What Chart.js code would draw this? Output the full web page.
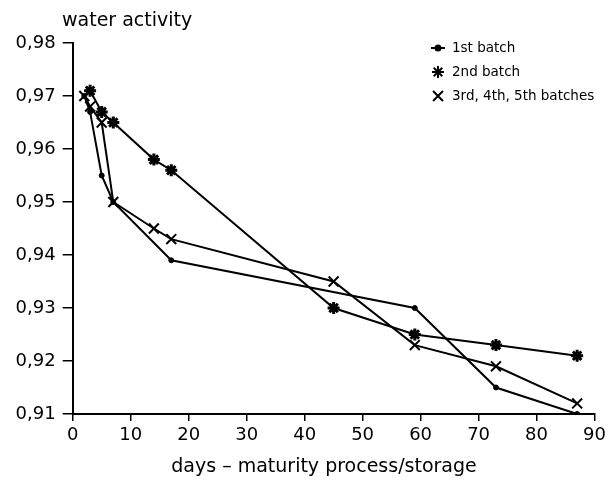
<!DOCTYPE html>
<html>
<head>
<meta charset="utf-8">
<script src="https://cdn.jsdelivr.net/npm/chart.js@4.4.1/dist/chart.umd.min.js"></script>
<style>
html,body{margin:0;padding:0;background:#fff;}
#wrap{width:610px;height:484px;position:relative;}
</style>
</head>
<body>
<div id="wrap"><canvas id="c" width="610" height="484"></canvas></div>
<script>
// ---- data ----
const seriesLabels = ["1st batch", "2nd batch", "3rd, 4th, 5th batches"];
const days1 = [2, 3, 5, 7, 17, 59, 73, 87];
const aw1   = [0.970, 0.967, 0.955, 0.950, 0.939, 0.930, 0.915, 0.910];
const days2 = [3, 5, 7, 14, 17, 45, 59, 73, 87];
const aw2   = [0.971, 0.967, 0.965, 0.958, 0.956, 0.930, 0.925, 0.923, 0.921];
const days3 = [2, 3, 5, 7, 14, 17, 45, 59, 73, 87];
const aw3   = [0.970, 0.968, 0.965, 0.950, 0.945, 0.943, 0.935, 0.923, 0.919, 0.912];
const xTicks = [0, 10, 20, 30, 40, 50, 60, 70, 80, 90];
const yTicks = [0.91, 0.92, 0.93, 0.94, 0.95, 0.96, 0.97, 0.98];
const yTitle = "water activity";
const xTitle = "days \u2013 maturity process/storage";

const FONT = "'DejaVu Sans', sans-serif";
const toPts = (xs, ys) => xs.map((x, i) => ({x: x, y: ys[i]}));

const styles = [
  {pointStyle: 'circle',   pointRadius: 2.5, pointBorderWidth: 1, pointBackgroundColor: '#000'},
  {pointStyle: 'star',     pointRadius: 6,   pointBorderWidth: 3, pointBackgroundColor: '#000'},
  {pointStyle: 'crossRot', pointRadius: 7,   pointBorderWidth: 2, pointBackgroundColor: '#000'}
];
const allData = [toPts(days1, aw1), toPts(days2, aw2), toPts(days3, aw3)];

const datasets = allData.map((d, i) => Object.assign({
  label: seriesLabels[i],
  data: d,
  showLine: true,
  borderColor: '#000',
  borderWidth: 2,
  pointBorderColor: '#000',
  tension: 0,
  fill: false
}, styles[i]));

const textPlugin = {
  id: 'texts',
  afterDraw(chart) {
    const ctx = chart.ctx;
    ctx.save();
    ctx.fillStyle = '#000';
    // axis titles
    ctx.font = "19px " + FONT;
    ctx.textAlign = 'left';
    ctx.textBaseline = 'middle';
    ctx.fillText(yTitle, 62, 21);
    ctx.font = "19px " + FONT;
    ctx.textAlign = 'center';
    ctx.fillText(xTitle, 324, 467);
    // legend
    ctx.font = "13.5px " + FONT;
    ctx.textAlign = 'left';
    const lx = 438, tx = 452, ly = [48, 72, 96];
    chart.data.datasets.forEach((ds, i) => {
      const y = ly[i];
      ctx.strokeStyle = '#000';
      ctx.fillStyle = '#000';
      if (i === 0) {
        ctx.lineWidth = 2;
        ctx.beginPath(); ctx.moveTo(lx - 7, y); ctx.lineTo(lx + 7, y); ctx.stroke();
      }
      Chart.helpers.drawPoint(ctx, {
        pointStyle: ds.pointStyle,
        radius: ds.pointRadius,
        borderWidth: ds.pointBorderWidth
      }, lx, y);
      ctx.fillStyle = '#000';
      ctx.fillText(ds.label, tx, y);
    });
    ctx.restore();
  }
};

new Chart(document.getElementById('c'), {
  type: 'scatter',
  data: {datasets: datasets},
  options: {
    responsive: false,
    animation: false,
    layout: {padding: {top: 43, right: 14, left: 0, bottom: 0}},
    plugins: {legend: {display: false}, tooltip: {enabled: false}, title: {display: false}},
    scales: {
      x: {
        type: 'linear', min: 0, max: 90,
        afterFit(s) { s.height = 70; },
        afterBuildTicks(s) { s.ticks = xTicks.map(v => ({value: v})); },
        border: {color: '#000', width: 2},
        grid: {display: true, drawOnChartArea: false, drawTicks: true, tickLength: 7, color: '#000', lineWidth: 1.5},
        ticks: {color: '#000', font: {family: FONT, size: 18}, padding: 4, maxRotation: 0,
                callback: v => String(v)}
      },
      y: {
        type: 'linear', min: 0.91, max: 0.98,
        afterFit(s) { s.width = 72.7; },
        afterBuildTicks(s) { s.ticks = yTicks.map(v => ({value: v})); },
        border: {color: '#000', width: 2},
        grid: {display: true, drawOnChartArea: false, drawTicks: true, tickLength: 10, color: '#000', lineWidth: 1.5},
        ticks: {color: '#000', font: {family: FONT, size: 18}, padding: 7,
                callback: v => v.toFixed(2).replace('.', ',')}
      }
    }
  },
  plugins: [textPlugin]
});
</script>
</body>
</html>
